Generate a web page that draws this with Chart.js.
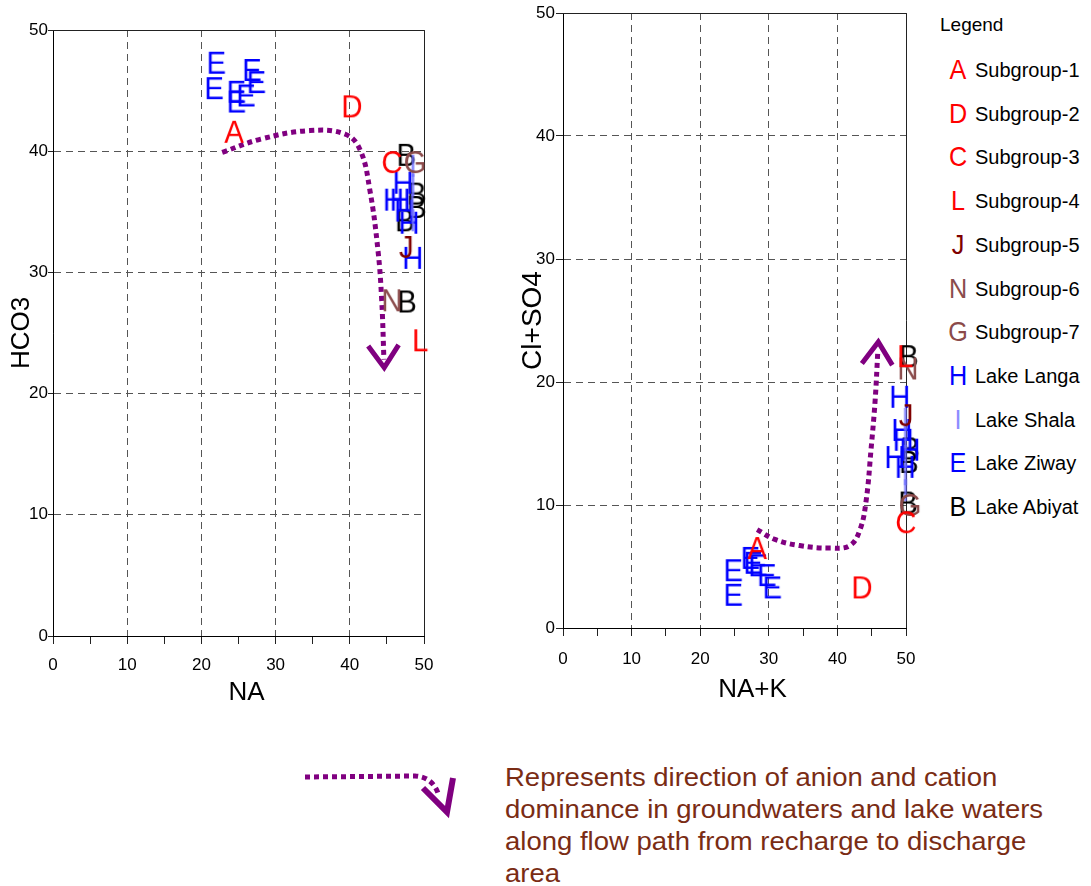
<!DOCTYPE html>
<html>
<head>
<meta charset="utf-8">
<script src="https://cdn.jsdelivr.net/npm/chart.js@4.4.0/dist/chart.umd.min.js"></script>
<style>
  body { margin: 0; background: #fff; width: 1091px; height: 886px; position: relative; overflow: hidden;
         font-family: Arial, "Liberation Sans", sans-serif; }
  #leftChart { position: absolute; left: 0; top: 0; }
  #rightChart { position: absolute; left: 500px; top: 0; }
  #legend { position: absolute; left: 0; top: 0; width: 1091px; }
  .legend-title { position: absolute; left: 940px; top: 13px; font-size: 19px; line-height: 24px; color: #000; white-space: nowrap; }
  .legend-row { position: absolute; left: 944px; height: 30px; display: flex; align-items: center; white-space: nowrap; }
  .legend-row .mark { width: 28px; text-align: center; font-size: 28px; line-height: 30px; transform: scaleX(0.9); }
  .legend-row .name { font-size: 20px; line-height: 30px; color: #000; margin-left: 3px; }
  #keyArrow { position: absolute; left: 290px; top: 755px; }
  #keyText { position: absolute; left: 505px; top: 761px; font-size: 25px; line-height: 32px; color: #7a2c14;
             transform: scaleX(1.1); transform-origin: left top; white-space: nowrap; }
</style>
</head>
<body>
<canvas id="leftChart" width="460" height="720"></canvas>
<canvas id="rightChart" width="440" height="720"></canvas>
<div id="legend"></div>
<canvas id="keyArrow" width="180" height="70"></canvas>
<div id="keyText">Represents direction of anion and cation<br>dominance in groundwaters and lake waters<br>along flow path from recharge to discharge<br>area</div>
<script>
// sample groups, the letter each is plotted with, and its colour
const groupNames = ['Subgroup-1', 'Subgroup-2', 'Subgroup-3', 'Subgroup-4', 'Subgroup-5', 'Subgroup-6',
                    'Subgroup-7', 'Lake Langa', 'Lake Shala', 'Lake Ziway', 'Lake Abiyat'];
const groupLetters = ['A', 'D', 'C', 'L', 'J', 'N', 'G', 'H', 'I', 'E', 'B'];
const groupColors = ['#ff0000', '#ff0000', '#ff0000', '#ff0000', '#7f0000', '#8b4c4c', '#8b4a4a',
                     '#0000ff', 'rgba(110,110,255,0.8)', '#0000ff', '#000000'];
// lower order is painted on top
const groupOrder = [0, 0, 0, 0, 0, 0, 0, 2, 1, 3, 4];

// NA vs HCO3, [x, y] per sample, one list per group
const naHco3 = [
  [[24.4, 41.6]],
  [[40.3, 43.7]],
  [[45.7, 39.1]],
  [[49.5, 24.4]],
  [[47.6, 32.1]],
  [[45.7, 27.7]],
  [[48.8, 39.1]],
  [[47.2, 37.4], [45.9, 36.0], [46.8, 36.0], [47.4, 35.1], [48.0, 34.1], [48.5, 31.2]],
  [[48.5, 38.8], [48.5, 37.2], [48.4, 35.6], [48.5, 34.3]],
  [[22.0, 47.3], [21.7, 45.2], [24.7, 44.9], [24.7, 44.1], [26.0, 44.6], [26.8, 46.7], [27.4, 45.7]],
  [[47.6, 39.7], [49.0, 36.5], [49.0, 35.4], [47.4, 34.3], [47.7, 27.6]]
];

// NA+K vs Cl+SO4
const nakClSo4 = [
  [[28.3, 6.5]],
  [[43.6, 3.3]],
  [[50.0, 8.6]],
  [[49.9, 22.1]],
  [[50.0, 17.3]],
  [[50.3, 21.1]],
  [[50.6, 10.0]],
  [[49.1, 18.8], [49.6, 15.3], [48.4, 13.9], [49.9, 13.1], [50.6, 14.5], [49.4, 16.1]],
  [[49.9, 17.0], [49.9, 15.5], [49.9, 14.0], [49.9, 12.5], [49.9, 11.2]],
  [[24.8, 4.7], [24.8, 2.7], [27.3, 5.7], [27.7, 5.3], [28.4, 5.1], [30.5, 3.3], [29.7, 4.3]],
  [[50.4, 22.1], [50.3, 10.2], [50.6, 14.6], [50.4, 13.5]]
];

// flow direction traced through each diagram, recharge -> discharge
const flowLeft = [[22.8, 39.9], [28.0, 41.0], [34.6, 41.7], [39.4, 41.4], [41.4, 40.1],
                  [42.7, 36.8], [43.8, 31.8], [44.3, 27.7], [44.6, 22.8]];
const flowRight = [[28.3, 8.0], [30.9, 7.2], [34.5, 6.7], [38.9, 6.5], [41.8, 6.7], [43.3, 8.0],
                   [44.2, 10.4], [44.9, 14.5], [45.5, 18.5], [45.9, 22.6]];

const FONT = 'Arial, "Liberation Sans", sans-serif';
const PURPLE = '#800080';
Chart.defaults.font.family = FONT;
Chart.defaults.color = '#000';

// letter glyph used as point style
function letterMark(ch, color) {
  const c = document.createElement('canvas');
  c.width = 34;
  c.height = 34;
  const g = c.getContext('2d');
  g.fillStyle = color;
  g.font = '31px ' + FONT;
  g.textAlign = 'center';
  g.textBaseline = 'alphabetic';
  g.translate(17, 17 + 11);
  g.scale(0.95, 1);
  g.fillText(ch, 0, 0);
  return c;
}
const marks = groupLetters.map((ch, i) => letterMark(ch, groupColors[i]));

function buildDatasets(points, flow) {
  const sets = groupNames.map((name, i) => ({
    label: name,
    data: points[i].map(p => ({ x: p[0], y: p[1] })),
    pointStyle: marks[i],
    pointRadius: 12,
    pointHoverRadius: 12,
    order: groupOrder[i],
    clip: false
  }));
  sets.push({
    label: 'flow',
    data: flow.map(p => ({ x: p[0], y: p[1] })),
    showLine: true,
    pointRadius: 0,
    pointHoverRadius: 0,
    borderColor: PURPLE,
    borderWidth: 5,
    borderDash: [5, 4],
    borderCapStyle: 'butt',
    tension: 0.4,
    order: 9,
    clip: false
  });
  return sets;
}

// V head at the end of the flow line
const arrowHead = {
  id: 'arrowHead',
  afterDatasetsDraw(chart) {
    const idx = chart.data.datasets.findIndex(d => d.label === 'flow');
    const pts = chart.getDatasetMeta(idx).data;
    const a = pts[pts.length - 2], b = pts[pts.length - 1];
    const ang = Math.atan2(b.y - a.y, b.x - a.x);
    const tx = b.x + Math.cos(ang) * 8, ty = b.y + Math.sin(ang) * 8;
    const len = 27, spread = 0.6;
    const ctx = chart.ctx;
    ctx.save();
    ctx.strokeStyle = PURPLE;
    ctx.lineWidth = 5;
    ctx.beginPath();
    ctx.moveTo(tx - len * Math.cos(ang - spread), ty - len * Math.sin(ang - spread));
    ctx.lineTo(tx, ty);
    ctx.lineTo(tx - len * Math.cos(ang + spread), ty - len * Math.sin(ang + spread));
    ctx.stroke();
    ctx.restore();
  }
};

// solid top and right edges of the plot box
const frame = {
  id: 'frame',
  beforeDatasetsDraw(chart) {
    const { left, right, top, bottom } = chart.chartArea;
    const ctx = chart.ctx;
    ctx.save();
    ctx.strokeStyle = '#222';
    ctx.lineWidth = 1;
    ctx.beginPath();
    ctx.moveTo(left, top + 0.5);
    ctx.lineTo(right + 0.5, top + 0.5);
    ctx.lineTo(right + 0.5, bottom);
    ctx.stroke();
    ctx.restore();
  }
};

// x axis caption, sits a little right of the axis centre
const xCaption = {
  id: 'xCaption',
  afterDraw(chart, args, opts) {
    const { left, right } = chart.chartArea;
    const ctx = chart.ctx;
    ctx.save();
    ctx.fillStyle = '#000';
    ctx.font = '26px ' + FONT;
    ctx.textAlign = 'center';
    ctx.textBaseline = 'middle';
    ctx.fillText(opts.text, (left + right) / 2 + opts.shift, chart.scales.x.bottom - opts.lift);
    ctx.restore();
  }
};

function axes(o) {
  return {
    x: {
      type: 'linear', min: 0, max: 50,
      ticks: { stepSize: 5, autoSkip: false, maxRotation: 0, padding: o.xTickPad, font: { size: 17 },
               callback: v => (v % 10 === 0 ? v : '') },
      grid: { color: c => (c.tick && c.tick.value % 10 === 0 ? '#555' : 'rgba(0,0,0,0)'),
              tickColor: '#222', tickLength: 8 },
      border: { color: '#000', dash: [7, 5] },
      afterFit: s => { s.height = o.xHeight; }
    },
    y: {
      type: 'linear', min: 0, max: 50,
      ticks: { stepSize: 10, padding: o.yTickPad, font: { size: 17 } },
      grid: { color: '#555', tickColor: '#222', tickLength: o.yTickLen },
      border: { color: '#000', dash: [7, 5] },
      title: { display: true, text: o.yTitle, font: { size: o.yTitleSize }, padding: { top: o.yTitlePad, bottom: 0 } },
      afterFit: s => { s.width = o.yWidth; }
    }
  };
}

function makeChart(id, points, flow, o) {
  return new Chart(document.getElementById(id), {
    type: 'scatter',
    data: { datasets: buildDatasets(points, flow) },
    options: {
      responsive: false,
      animation: false,
      layout: { padding: o.pad },
      plugins: {
        legend: { display: false },
        tooltip: { enabled: false },
        xCaption: { text: o.xTitle, shift: o.xTitleShift, lift: o.xTitleLift }
      },
      scales: axes(o)
    },
    plugins: [frame, arrowHead, xCaption]
  });
}

makeChart('leftChart', naHco3, flowLeft, {
  pad: { left: 0, right: 36, top: 30, bottom: 0 },
  xTitle: 'NA', xTitleShift: 8, xTitleLift: 27,
  yTitle: 'HCO3', yTitleSize: 26, yTitlePad: 6,
  xHeight: 84, yWidth: 53, xTickPad: 11, yTickPad: 0, yTickLen: 5
});

makeChart('rightChart', nakClSo4, flowRight, {
  pad: { left: 0, right: 34, top: 13, bottom: 0 },
  xTitle: 'NA+K', xTitleShift: 18, xTitleLift: 30,
  yTitle: 'Cl+SO4', yTitleSize: 28, yTitlePad: 16,
  xHeight: 92, yWidth: 63, xTickPad: 13, yTickPad: 1, yTickLen: 7
});

// shared legend
const legend = document.getElementById('legend');
const title = document.createElement('div');
title.className = 'legend-title';
title.textContent = 'Legend';
legend.appendChild(title);
groupNames.forEach((name, i) => {
  const row = document.createElement('div');
  row.className = 'legend-row';
  row.style.top = (70 + i * 43.7 - 15) + 'px';
  const mark = document.createElement('span');
  mark.className = 'mark';
  mark.style.color = groupColors[i];
  mark.textContent = groupLetters[i];
  const label = document.createElement('span');
  label.className = 'name';
  label.textContent = name;
  row.appendChild(mark);
  row.appendChild(label);
  legend.appendChild(row);
});

// key arrow next to the note
const kc = document.getElementById('keyArrow').getContext('2d');
kc.strokeStyle = PURPLE;
kc.lineWidth = 5;
kc.lineCap = 'butt';
kc.setLineDash([5, 4]);
kc.beginPath();
kc.moveTo(15, 22);
kc.lineTo(125, 21);
kc.quadraticCurveTo(142, 22, 148, 38);
kc.stroke();
kc.setLineDash([]);
kc.lineWidth = 6;
kc.beginPath();
kc.moveTo(133, 33);
kc.lineTo(157, 57);
kc.lineTo(163, 23);
kc.stroke();
</script>
</body>
</html>
